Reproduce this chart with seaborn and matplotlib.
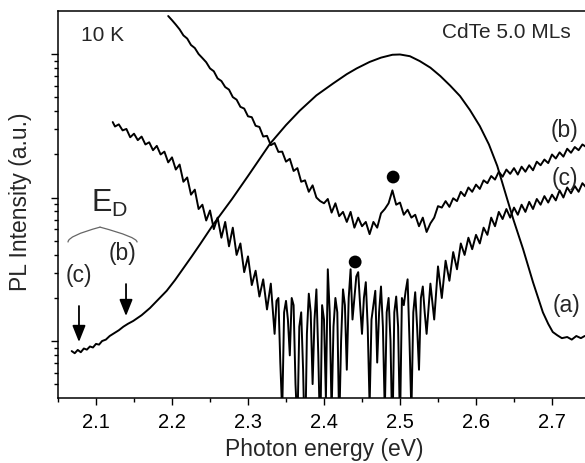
import numpy as np
import matplotlib
matplotlib.use('Agg')
import matplotlib.pyplot as plt
import seaborn as sns
from matplotlib.ticker import MultipleLocator, LogLocator, NullFormatter, FormatStrFormatter

# --- data (photon energy in eV, log10 of PL intensity) ---
e_a = [2.068, 2.072, 2.076, 2.080, 2.084, 2.088, 2.092, 2.096, 2.100, 2.104, 2.108, 2.113,
       2.118, 2.124, 2.130, 2.136, 2.142, 2.149, 2.160, 2.171, 2.182, 2.193, 2.204, 2.214,
       2.226, 2.237, 2.254, 2.279, 2.300, 2.329, 2.350, 2.368, 2.390, 2.412, 2.430, 2.443,
       2.460, 2.475, 2.490, 2.500, 2.513, 2.526, 2.540, 2.553, 2.566, 2.579, 2.592, 2.605,
       2.617, 2.628, 2.641, 2.649, 2.662, 2.675, 2.688, 2.695, 2.701, 2.707, 2.713, 2.720,
       2.726, 2.732, 2.738, 2.743]
log_a = [-0.070, -0.085, -0.062, -0.078, -0.052, -0.060, -0.038, -0.045, -0.020, -0.025, 0.000, 0.010,
         0.035, 0.055, 0.075, 0.100, 0.120, 0.140, 0.180, 0.230, 0.290, 0.350, 0.425, 0.500,
         0.590, 0.675, 0.810, 0.990, 1.150, 1.375, 1.505, 1.605, 1.712, 1.795, 1.860, 1.900,
         1.945, 1.975, 1.995, 1.997, 1.985, 1.951, 1.905, 1.847, 1.780, 1.707, 1.610, 1.498,
         1.370, 1.220, 0.990, 0.850, 0.640, 0.410, 0.200, 0.120, 0.063, 0.040, 0.020, 0.028,
         0.010, 0.035, 0.020, 0.035]

e_b = [2.195, 2.200, 2.205, 2.210, 2.215, 2.220, 2.225, 2.230, 2.235, 2.240, 2.245, 2.250,
       2.255, 2.260, 2.265, 2.270, 2.275, 2.280, 2.285, 2.290, 2.295, 2.300, 2.305, 2.310,
       2.315, 2.320, 2.325, 2.330, 2.335, 2.340, 2.345, 2.350, 2.355, 2.360, 2.365, 2.370,
       2.375, 2.380, 2.385, 2.390, 2.395, 2.400, 2.405, 2.410, 2.415, 2.420, 2.425, 2.430,
       2.435, 2.440, 2.445, 2.450, 2.455, 2.460, 2.465, 2.470, 2.475, 2.480, 2.485, 2.490,
       2.495, 2.500, 2.505, 2.510, 2.515, 2.520, 2.525, 2.530, 2.535, 2.540, 2.545, 2.550,
       2.555, 2.560, 2.565, 2.570, 2.575, 2.580, 2.585, 2.590, 2.595, 2.600, 2.605, 2.610,
       2.615, 2.620, 2.625, 2.630, 2.635, 2.640, 2.645, 2.650, 2.655, 2.660, 2.665, 2.670,
       2.675, 2.680, 2.685, 2.690, 2.695, 2.700, 2.705, 2.710, 2.715, 2.720, 2.725, 2.730,
       2.735, 2.740, 2.745]
log_b = [2.265, 2.236, 2.205, 2.172, 2.130, 2.108, 2.063, 2.042, 2.000, 1.972, 1.943, 1.900,
         1.880, 1.830, 1.812, 1.770, 1.752, 1.700, 1.682, 1.632, 1.620, 1.566, 1.560, 1.500,
         1.492, 1.425, 1.430, 1.365, 1.380, 1.318, 1.320, 1.250, 1.270, 1.185, 1.205, 1.110,
         1.120, 1.040, 1.085, 1.000, 0.975, 0.960, 0.990, 0.895, 0.960, 0.870, 0.900, 0.830,
         0.900, 0.790, 0.860, 0.800, 0.830, 0.745, 0.830, 0.790, 0.890, 0.920, 0.960, 1.050,
         0.950, 0.965, 0.880, 0.915, 0.860, 0.880, 0.800, 0.860, 0.760, 0.820, 0.860, 0.940,
         0.930, 0.975, 0.935, 0.995, 0.975, 1.040, 1.010, 1.070, 1.040, 1.090, 1.060, 1.120,
         1.100, 1.150, 1.125, 1.180, 1.145, 1.195, 1.165, 1.205, 1.160, 1.215, 1.180, 1.225,
         1.190, 1.250, 1.225, 1.265, 1.240, 1.300, 1.272, 1.315, 1.285, 1.340, 1.312, 1.352,
         1.330, 1.370, 1.352]

e_c = [2.122, 2.125, 2.130, 2.135, 2.140, 2.145, 2.150, 2.155, 2.160, 2.165, 2.170, 2.175,
       2.180, 2.185, 2.190, 2.195, 2.200, 2.205, 2.210, 2.215, 2.220, 2.225, 2.230, 2.235,
       2.240, 2.245, 2.250, 2.255, 2.260, 2.265, 2.270, 2.275, 2.280, 2.285, 2.290, 2.295,
       2.300, 2.305, 2.310, 2.315, 2.320, 2.325, 2.330,
       2.3350, 2.3375, 2.3400, 2.3425, 2.3450, 2.3475, 2.3500, 2.3525, 2.3550, 2.3575,
       2.3600, 2.3625, 2.3650, 2.3675, 2.3700, 2.3725, 2.3750, 2.3775, 2.3800, 2.3825,
       2.3850, 2.3875, 2.3900, 2.3925, 2.3950, 2.3975, 2.4000, 2.4025, 2.4050, 2.4075,
       2.4100, 2.4125, 2.4150, 2.4175, 2.4200, 2.4225, 2.4250, 2.4275, 2.4300, 2.4325,
       2.4350, 2.4375, 2.4400, 2.4425, 2.4450, 2.4475, 2.4500, 2.4525, 2.4550, 2.4575,
       2.4600, 2.4625, 2.4650, 2.4675, 2.4700, 2.4725, 2.4750, 2.4775, 2.4800, 2.4825,
       2.4850, 2.4875, 2.4900, 2.4925, 2.4950, 2.4975, 2.5000, 2.5025, 2.5050, 2.5075,
       2.5100, 2.5125, 2.5150, 2.5175, 2.5200, 2.5225, 2.5250, 2.5275, 2.5300, 2.5325,
       2.535, 2.540, 2.545, 2.550, 2.555, 2.560, 2.565, 2.570, 2.575, 2.580, 2.585, 2.590,
       2.595, 2.600, 2.605, 2.610, 2.615, 2.620, 2.625, 2.630, 2.635, 2.640, 2.645, 2.650,
       2.655, 2.660, 2.665, 2.670, 2.675, 2.680, 2.685, 2.690, 2.695, 2.700, 2.705, 2.710,
       2.715, 2.720, 2.725, 2.730, 2.735, 2.740, 2.745]
log_c = [1.526, 1.495, 1.510, 1.468, 1.478, 1.420, 1.445, 1.400, 1.425, 1.370, 1.385, 1.330,
         1.360, 1.300, 1.320, 1.245, 1.280, 1.195, 1.230, 1.110, 1.140, 1.020, 1.055, 0.920,
         0.950, 0.840, 0.910, 0.780, 0.860, 0.720, 0.830, 0.660, 0.790, 0.600, 0.680, 0.480,
         0.590, 0.390, 0.490, 0.310, 0.430, 0.220, 0.400,
         0.050, 0.280, 0.300, -0.150, -0.500, 0.200, 0.280, 0.150, -0.100, 0.300,
         0.250, -0.300, -0.600, 0.100, 0.200, -0.200, -0.800, 0.050, 0.330, 0.200,
         -0.300, 0.150, 0.360, -0.100, -0.700, 0.250, 0.150, -0.400, 0.500, 0.200,
         -0.500, 0.100, 0.300, 0.200, -0.600, 0.000, 0.360, 0.250, -0.200, 0.300,
         0.500, 0.150, 0.300, 0.450, 0.480, 0.250, 0.050, 0.300, 0.410, 0.100,
         -0.450, 0.150, 0.250, 0.350, -0.150, 0.200, 0.380, 0.100, -0.500, 0.200,
         0.300, 0.000, -0.700, 0.200, 0.310, 0.100, -0.600, 0.300, 0.250, 0.350,
         0.430, 0.000, -0.500, 0.200, 0.340, 0.100, -0.200, 0.300, 0.380, 0.200,
         0.050, 0.400, 0.150, 0.520, 0.300, 0.560, 0.420, 0.620, 0.500, 0.680, 0.600, 0.720,
         0.640, 0.740, 0.680, 0.790, 0.740, 0.860, 0.800, 0.900, 0.850, 0.920, 0.860, 0.930,
         0.880, 0.950, 0.900, 0.970, 0.920, 0.990, 0.950, 1.010, 0.965, 1.020, 0.980, 1.050,
         1.000, 1.070, 1.030, 1.080, 1.040, 1.100, 1.070]

dot_e = [2.441, 2.491]
dot_log = [0.551, 1.143]

# --- figure ---
sns.set_theme(style='ticks')
plt.rcParams['font.family'] = ['Liberation Sans', 'DejaVu Sans']
plt.rcParams['mathtext.fontset'] = 'custom'
plt.rcParams['mathtext.rm'] = 'Liberation Sans'

fig = plt.figure(figsize=(5.85, 4.64), dpi=100)
ax = fig.add_axes([58 / 585, 65 / 464, 532 / 585, 387 / 464])

for e, lg in [(e_a, log_a), (e_b, log_b), (e_c, log_c)]:
    sns.lineplot(x=e, y=10 ** np.array(lg), ax=ax, color='black', lw=1.4,
                 estimator=None, sort=False)
sns.scatterplot(x=dot_e, y=10 ** np.array(dot_log), ax=ax, color='black', s=85,
                edgecolor='none', zorder=5)

ax.set_yscale('log')
ax.set_xlim(2.05, 2.75)
ax.set_ylim(10 ** -0.397, 10 ** 2.30)

ax.xaxis.set_major_locator(MultipleLocator(0.1))
ax.xaxis.set_minor_locator(MultipleLocator(0.05))
ax.xaxis.set_major_formatter(FormatStrFormatter('%.1f'))
ax.yaxis.set_major_locator(LogLocator(base=10))
ax.yaxis.set_minor_locator(LogLocator(base=10, subs=range(2, 10)))
ax.yaxis.set_major_formatter(NullFormatter())
ax.yaxis.set_minor_formatter(NullFormatter())

ax.tick_params(which='both', direction='out', top=False, right=False, colors='black', width=1)
ax.tick_params(which='major', length=5)
ax.tick_params(which='minor', length=2.8)
ax.tick_params(axis='x', labelsize=14.5, pad=5)
for s in ax.spines.values():
    s.set_color('black')
    s.set_linewidth(1.1)

ax.set_xlabel('Photon energy (eV)', fontsize=16.5)
ax.set_ylabel('PL Intensity (a.u.)', fontsize=16.5)
ax.xaxis.set_label_coords(0.5, -0.10)
ax.yaxis.set_label_coords(-0.049, 0.51)

# --- annotations ---
ax.text(2.109, 137.8, '10 K', fontsize=15, ha='center', va='center')
ax.text(2.6395, 144.6, 'CdTe 5.0 MLs', fontsize=15, ha='center', va='center')
ax.text(2.717, 30.0, '(b)', fontsize=16.5, ha='center', va='center')
ax.text(2.717, 13.9, '(c)', fontsize=16.5, ha='center', va='center')
ax.text(2.7197, 1.81, '(a)', fontsize=16.5, ha='center', va='center')
ax.text(2.1184, 9.3, r'E$_\mathregular{D}$', fontsize=22, ha='center', va='center')
ax.text(2.1355, 4.17, '(b)', fontsize=16.5, ha='center', va='center')
ax.text(2.0776, 2.93, '(c)', fontsize=16.5, ha='center', va='center')

arrow = dict(arrowstyle='-|>,head_length=1.0,head_width=0.4', color='black', lw=1.3,
             mutation_scale=10, shrinkA=0, shrinkB=0)
ax.annotate('', xy=(2.0776, 0.984), xytext=(2.0776, 1.754), arrowprops=arrow)
ax.annotate('', xy=(2.1395, 1.493), xytext=(2.1395, 2.495), arrowprops=arrow)

brace = dict(arrowstyle='-', color='#666666', lw=0.9, shrinkA=0, shrinkB=0)
ax.annotate('', xy=(2.1053, 6.22), xytext=(2.0632, 4.90),
            arrowprops=dict(brace, connectionstyle='angle3,angleA=90,angleB=15'))
ax.annotate('', xy=(2.154, 4.90), xytext=(2.1053, 6.22),
            arrowprops=dict(brace, connectionstyle='angle3,angleA=-15,angleB=90'))

fig.savefig('out.png', dpi=100)
